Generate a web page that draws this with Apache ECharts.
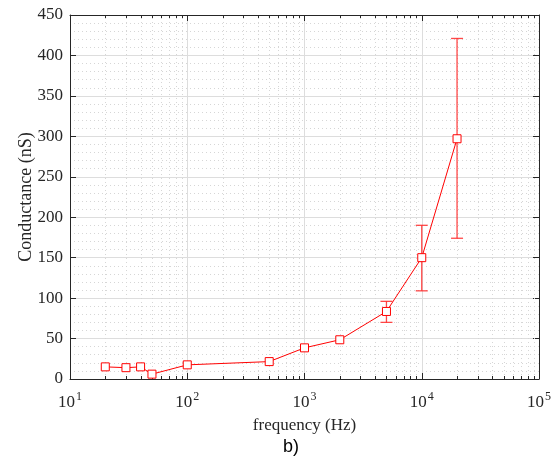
<!DOCTYPE html>
<html><head><meta charset="utf-8">
<script src="https://cdn.jsdelivr.net/npm/echarts@6/dist/echarts.min.js"></script>
<style>html,body{margin:0;padding:0;background:#fff}#c{width:557px;height:461px}</style>
</head><body><div id="c"></div>
<script>
const freq = [20, 30, 40, 50, 100, 500, 1000, 2000, 5000, 10000, 20000];
const conductance = [15, 14, 15, 6, 17.5, 21.5, 38.5, 48.5, 83.5, 150, 297];
const errLow = [null, null, null, null, null, null, null, null, 70, 109, 174];
const errHigh = [null, null, null, null, null, null, null, null, 96, 190, 421];
const minorX = [];
[10, 100, 1000, 10000].forEach(d => { for (let m = 2; m <= 9; m++) minorX.push(m * d); });
const xTickLabels = {10: '1', 100: '2', 1000: '3', 10000: '4', 100000: '5'};

const serif = '"Liberation Serif", "DejaVu Serif", serif';
const axisColor = '#262626';

const errData = [];
freq.forEach((f, i) => { if (errLow[i] != null) errData.push([f, errLow[i], errHigh[i]]); });

const chart = echarts.init(document.getElementById('c'));
chart.setOption({
  animation: false,
  grid: {left: 70, right: 18, top: 15, bottom: 82, containLabel: false},
  xAxis: [{
    type: 'log', logBase: 10, min: 10, max: 100000,
    name: 'frequency (Hz)', nameLocation: 'middle', nameGap: 38,
    nameTextStyle: {fontFamily: serif, fontSize: 17, color: axisColor},
    axisLine: {show: true, onZero: false, lineStyle: {color: axisColor, width: 1}},
    axisTick: {show: true, inside: true, length: 6, lineStyle: {color: axisColor}},
    axisLabel: {
      margin: 12, color: axisColor,
      formatter: v => '{b|10}{s|' + xTickLabels[Math.round(v)] + '}',
      rich: {
        b: {fontFamily: serif, fontSize: 17, color: axisColor, verticalAlign: 'bottom', lineHeight: 20},
        s: {fontFamily: serif, fontSize: 12, color: axisColor, verticalAlign: 'top', lineHeight: 20, padding: [0, 0, 4, 1]}
      }
    },
    splitLine: {show: true, lineStyle: {color: '#dddddd', width: 1}}
  }, {
    type: 'log', logBase: 10, min: 10, max: 100000, position: 'top',
    axisLine: {show: true, onZero: false, lineStyle: {color: axisColor}},
    axisTick: {show: true, inside: true, length: 6, lineStyle: {color: axisColor}},
    axisLabel: {show: false}, splitLine: {show: false}
  }],
  yAxis: [{
    type: 'value', min: 0, max: 450, interval: 50,
    name: 'Conductance (nS)', nameLocation: 'middle', nameGap: 35, nameMoveOverlap: false,
    nameTextStyle: {fontFamily: serif, fontSize: 18, color: axisColor},
    axisLine: {show: true, lineStyle: {color: axisColor}},
    axisTick: {show: true, inside: true, length: 6, lineStyle: {color: axisColor}},
    axisLabel: {fontFamily: serif, fontSize: 17, color: axisColor, margin: 7},
    splitLine: {show: true, lineStyle: {color: '#dddddd', width: 1}},
    minorTick: {show: false, splitNumber: 5},
    minorSplitLine: {show: true, lineStyle: {color: '#d6d6d6', width: 1, type: [1, 3]}}
  }, {
    type: 'value', min: 0, max: 450, interval: 50, position: 'right',
    axisLine: {show: true, lineStyle: {color: axisColor}},
    axisTick: {show: true, inside: true, length: 6, lineStyle: {color: axisColor}},
    axisLabel: {show: false}, splitLine: {show: false}
  }],
  graphic: [{
    type: 'text', left: 283, top: 438,
    style: {text: 'b)', font: '18px "Liberation Sans", Arial, sans-serif', fill: '#000'}
  }],
  series: [{
    type: 'custom', name: 'minor', silent: true, z: 1,
    data: minorX.map(v => [v]),
    renderItem: (params, api) => {
      const b = api.coord([api.value(0), 0]);
      const t = api.coord([api.value(0), 450]);
      const x = Math.round(b[0]) + 0.5;
      return {type: 'group', children: [
        {type: 'line', shape: {x1: x, y1: b[1], x2: x, y2: t[1]}, style: {stroke: '#d6d6d6', lineWidth: 1, lineDash: [1, 3]}},
        {type: 'line', shape: {x1: x, y1: b[1], x2: x, y2: b[1] - 3}, style: {stroke: axisColor, lineWidth: 1}},
        {type: 'line', shape: {x1: x, y1: t[1], x2: x, y2: t[1] + 3}, style: {stroke: axisColor, lineWidth: 1}}
      ]};
    }
  }, {
    type: 'custom', name: 'err', z: 3,
    data: errData,
    renderItem: (params, api) => {
      const lo = api.coord([api.value(0), api.value(1)]);
      const hi = api.coord([api.value(0), api.value(2)]);
      const c = 'rgba(255,40,40,0.85)';
      return {type: 'group', children: [
        {type: 'line', shape: {x1: lo[0], y1: lo[1], x2: hi[0], y2: hi[1]}, style: {stroke: c, lineWidth: 1.3}},
        {type: 'line', shape: {x1: lo[0] - 6, y1: lo[1], x2: lo[0] + 6, y2: lo[1]}, style: {stroke: c, lineWidth: 1.3}},
        {type: 'line', shape: {x1: hi[0] - 6, y1: hi[1], x2: hi[0] + 6, y2: hi[1]}, style: {stroke: c, lineWidth: 1.3}}
      ]};
    }
  }, {
    type: 'line', name: 'Conductance', z: 4,
    data: freq.map((f, i) => [f, conductance[i]]),
    symbol: 'rect', symbolSize: 8,
    itemStyle: {color: '#fff', borderColor: '#ff0000', borderWidth: 1},
    lineStyle: {color: '#ff0000', width: 1}
  }]
});
</script></body></html>
